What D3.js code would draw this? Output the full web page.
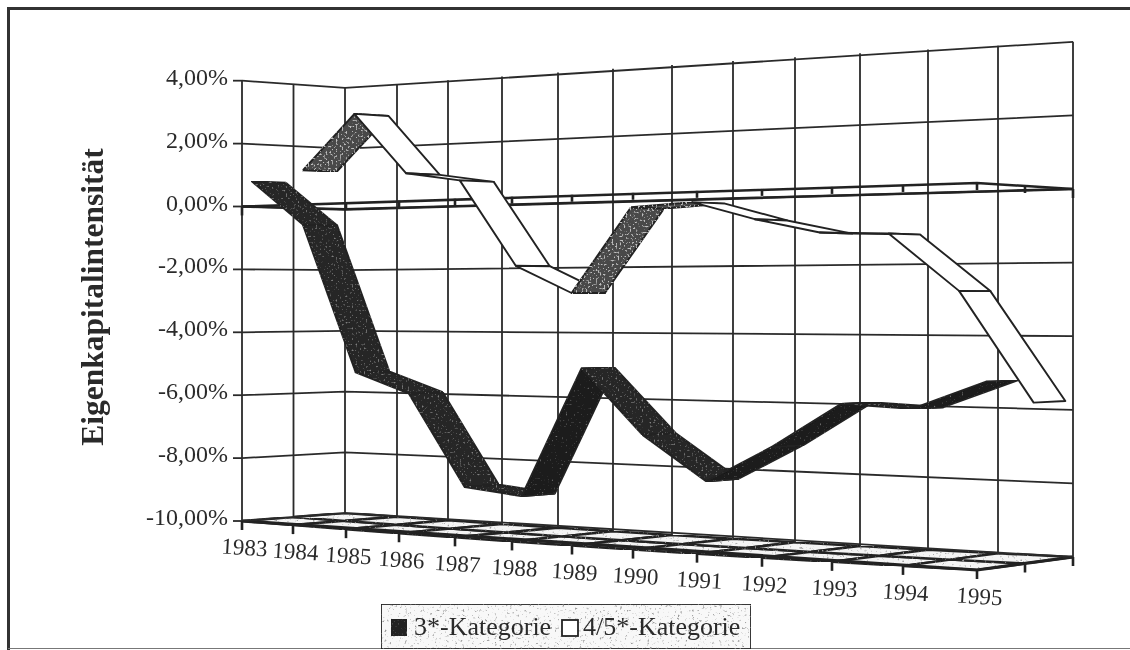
<!DOCTYPE html>
<html>
<head>
<meta charset="utf-8">
<script src="https://cdn.jsdelivr.net/npm/d3@7"></script>
<style>
  html, body { margin: 0; padding: 0; background: #fff; overflow: hidden; }
  text { font-family: "Liberation Serif", serif; fill: #2c2c2c; }
</style>
</head>
<body>
<svg id="chart" width="1130" height="650"></svg>
<script>
const years = ["1983", "1984", "1985", "1986", "1987", "1988", "1989", "1990", "1991", "1992", "1993", "1994", "1995"];
const yTicks = [4, 2, 0, -2, -4, -6, -8, -10];
const kat3 = [0.81, -0.62, -5.21, -5.81, -8.54, -8.71, -4.96, -6.8, -8.03, -7.02, -5.8, -5.89, -5.14];
const kat45 = [1.23, 2.95, 0.98, 0.69, -1.96, -2.79, -0.29, -0.19, -0.72, -1.13, -1.19, -2.77, -5.75];
const seriesNames = ["3*-Kategorie", "4/5*-Kategorie"];
const depthRows = [0, 1, 2];

const svg = d3.select("#chart");
const idx = d3.range(years.length);

// perspective of the box: the front and back floor edges, spacing
const frontX = d3.scaleLinear().domain(idx).range([242, 293, 346, 399, 455, 512, 572, 633, 697, 762, 832, 903, 977]);
const backX = d3.scaleLinear().domain(idx).range([345, 397, 448, 502, 558, 613, 672, 733, 795, 860, 928, 998, 1073]);
const frontY = d3.scaleLinear().domain([0, 12]).range([521, 570]);
const backY = d3.scaleLinear().domain([0, 12]).range([513, 557]);
const frontUnit = d3.scaleLinear().domain([0, 12]).range([31.45, 38.7]);
const backUnit = d3.scaleLinear().domain([0, 12]).range([30.36, 36.8]);
const yMin = d3.min(yTicks);
const yMax = d3.max(yTicks);

// u = year index, v = depth 0..2, w = value in percent
function project(u, v, w) {
  const t = v / 2;
  const x = frontX(u) + (backX(u) - frontX(u)) * t;
  const floor = frontY(u) + (backY(u) - frontY(u)) * t;
  const unit = frontUnit(u) + (backUnit(u) - frontUnit(u)) * t;
  return [x, floor - (w - yMin) * unit];
}

const line = d3.line();
const percent = d3.formatLocale({ decimal: ",", thousands: ".", grouping: [3], currency: ["", ""], minus: "-" }).format(".2f");

const defs = svg.append("defs");
function speckle(id, color, slope, cut, freq) {
  const f = defs.append("filter").attr("id", id)
    .attr("x", 0).attr("y", 0).attr("width", 1).attr("height", 1)
    .attr("color-interpolation-filters", "sRGB");
  f.append("feTurbulence").attr("type", "fractalNoise").attr("baseFrequency", freq).attr("numOctaves", 2).attr("seed", 4).attr("result", "n");
  f.append("feColorMatrix").attr("in", "n").attr("type", "matrix")
    .attr("values", `0 0 0 0 ${color} 0 0 0 0 ${color} 0 0 0 0 ${color} ${slope} 0 0 0 ${cut}`)
    .attr("result", "s");
  f.append("feComposite").attr("in", "s").attr("in2", "SourceAlpha").attr("operator", "in").attr("result", "c");
  const m = f.append("feMerge");
  m.append("feMergeNode").attr("in", "SourceGraphic");
  m.append("feMergeNode").attr("in", "c");
}
speckle("spDark", 0.5, 6, -3.7, 0.5);
speckle("spDarker", 0.45, 6, -4.0, 0.5);
speckle("spGray", 0.75, 6, -3.3, 0.5);
speckle("spLight", 0.6, 5, -3.1, 0.4);
defs.append("filter").attr("id", "scan")
  .attr("filterUnits", "userSpaceOnUse").attr("x", 0).attr("y", 0).attr("width", 1130).attr("height", 650)
  .append("feGaussianBlur").attr("stdDeviation", 0.5);

const root = svg.append("g").attr("filter", "url(#scan)");
const ink = "#222";

// page frame
root.append("path").attr("d", "M8.5,650V8.5H1130").attr("fill", "none").attr("stroke", "#333").attr("stroke-width", 3);
root.append("path").attr("d", "M8,648.5H1130").attr("fill", "none").attr("stroke", "#777").attr("stroke-width", 1);

// floor cells
const floor = root.append("g");
idx.slice(0, -1).forEach((u) => {
  depthRows.slice(0, -1).forEach((v) => {
    floor.append("path")
      .attr("d", line([project(u, v, yMin), project(u + 1, v, yMin), project(u + 1, v + 1, yMin), project(u, v + 1, yMin)]) + "Z")
      .attr("fill", "#f4f4f4").attr("filter", "url(#spLight)")
      .attr("stroke", ink).attr("stroke-width", 2.5);
  });
});
root.append("path")
  .attr("d", line([project(0, 0, yMin), project(12, 0, yMin), project(12, 2, yMin)]))
  .attr("fill", "none").attr("stroke", ink).attr("stroke-width", 3.2);

// walls: horizontal grid lines and verticals
const grid = root.append("g").attr("fill", "none").attr("stroke", "#2b2b2b").attr("stroke-width", 1.8);
yTicks.forEach((w) => {
  grid.append("path").attr("d", line([project(0, 0, w), project(0, 2, w), project(12, 2, w)]));
});
depthRows.forEach((v) => {
  grid.append("path").attr("d", line([project(0, v, yMax), project(0, v, yMin)]));
});
idx.slice(1).forEach((u) => {
  grid.append("path").attr("d", line([project(u, 2, yMax), project(u, 2, yMin)]));
});

// y ticks and labels
yTicks.forEach((w) => {
  const [x, y] = project(0, 0, w);
  root.append("path").attr("d", line([[x - 9, y], [x, y]])).attr("stroke", "#2b2b2b").attr("stroke-width", 1.8);
  root.append("text").attr("x", x - 14).attr("y", y + 4).attr("text-anchor", "end")
    .attr("font-size", 24).text(percent(w) + "%");
});

// x ticks below the floor
const baseTicks = idx.map((u) => project(u, 0, yMin)).concat([project(12, 1, yMin), project(12, 2, yMin)]);
baseTicks.forEach(([x, y]) => {
  root.append("path").attr("d", line([[x, y], [x, y + 9]])).attr("stroke", ink).attr("stroke-width", 2.6);
});
years.forEach((yr, u) => {
  const [x, y] = project(u, 0, yMin);
  root.append("text").attr("text-anchor", "middle").attr("font-size", 23)
    .attr("transform", `translate(${x + 2},${y + 34}) rotate(3.5)`).text(yr);
});

// zero plane: double rail with ticks
const rail = root.append("g").attr("fill", "none").attr("stroke", ink).attr("stroke-width", 2.6);
rail.append("path").attr("d", line([project(0, 0, 0), project(12, 0, 0), project(12, 2, 0)]));
rail.append("path").attr("d", line([project(0, 0, 0), project(0, 2, 0), project(12, 2, 0)]));
idx.map((u) => project(u, 0, 0)).concat([project(12, 1, 0), project(12, 2, 0)]).forEach(([x, y], i) => {
  rail.append("path").attr("d", line([[x, y], [x, y + (i === 0 || i === 14 ? 9 : 7)]]));
});

// ribbons, one band per year step
function ribbon(vals, v0, v1, fillUp, fillDown) {
  const g = root.append("g").attr("stroke", ink).attr("stroke-width", 1.9).attr("stroke-linejoin", "round");
  vals.slice(0, -1).forEach((w, u) => {
    const next = vals[u + 1];
    const style = next > w ? fillUp : fillDown;
    const p = g.append("path")
      .attr("d", line([project(u, v0, w), project(u + 1, v0, next), project(u + 1, v1, next), project(u, v1, w)]) + "Z")
      .attr("fill", style.fill);
    if (style.filter) p.attr("filter", style.filter);
  });
}
ribbon(kat3, 0.19, 0.85, { fill: "#1a1a1a", filter: "url(#spDarker)" }, { fill: "#262626", filter: "url(#spDark)" });
ribbon(kat45, 1.18, 1.84, { fill: "#484848", filter: "url(#spGray)" }, { fill: "#fff" });

// axis title
root.append("text").attr("transform", "translate(103,297) rotate(-90)")
  .attr("text-anchor", "middle").attr("font-size", 31.5).attr("font-weight", "bold").text("Eigenkapitalintensität");

// legend
const legend = root.append("g");
legend.append("rect").attr("x", 381).attr("y", 604).attr("width", 370).attr("height", 45)
  .attr("fill", "#f8f8f8").attr("stroke", ink).attr("stroke-width", 1.8).attr("filter", "url(#spLight)");
legend.append("rect").attr("x", 391).attr("y", 619).attr("width", 16).attr("height", 17)
  .attr("fill", "#222").attr("filter", "url(#spDarker)");
legend.append("rect").attr("x", 562).attr("y", 620).attr("width", 16).attr("height", 16)
  .attr("fill", "#fff").attr("stroke", ink).attr("stroke-width", 1.8);
legend.append("text").attr("x", 414).attr("y", 635).attr("font-size", 26).text(seriesNames[0]);
legend.append("text").attr("x", 583).attr("y", 635).attr("font-size", 26).text(seriesNames[1]);
</script>
</body>
</html>
